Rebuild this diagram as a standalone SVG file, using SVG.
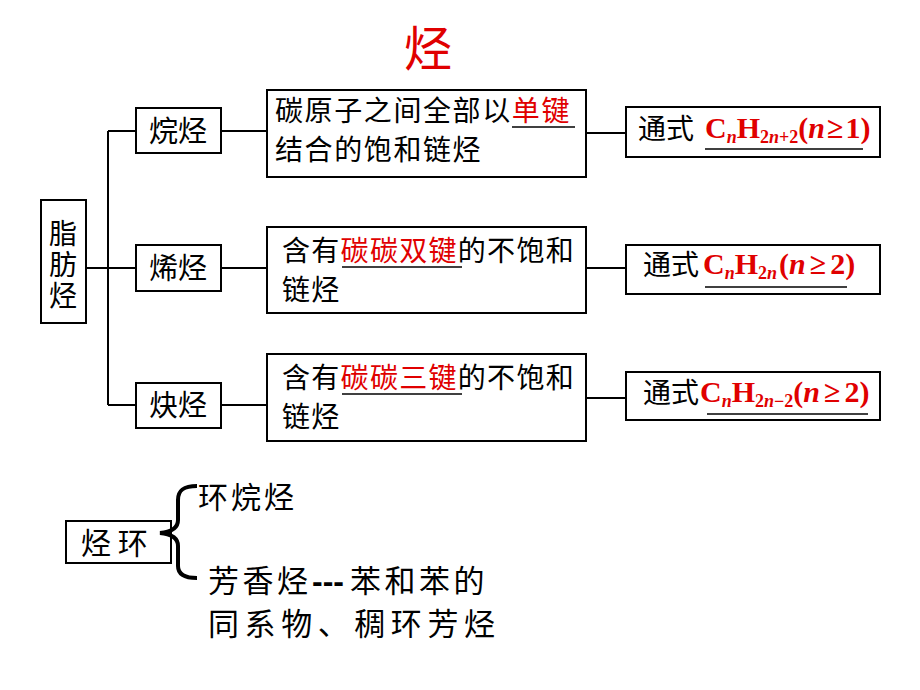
<svg xmlns="http://www.w3.org/2000/svg" width="920" height="690" viewBox="0 0 920 690">
<defs>
<style>
.box{fill:#fff;stroke:#000;stroke-width:2}
.ln{fill:none;stroke:#000;stroke-width:2}
.cn{font-family:"Noto Sans CJK SC","Noto Sans",sans-serif;fill:#000}
.red{fill:#e00000}
.f{font-family:"Liberation Serif",serif;font-weight:bold;fill:#e00000}
.ul{stroke:#000;stroke-width:1.5}
</style>
</defs>
<rect width="920" height="690" fill="#fff"/>
<text x="428" y="66" class="cn red" font-size="48" text-anchor="middle">烃</text>

<g id="connectors">
<path class="ln" d="M86,268 H136 M108,131 V405 M108,131 H136 M108,405 H136"/>
<path class="ln" d="M221,131 H267 M221,268 H267 M221,405 H267"/>
<path class="ln" d="M586,133 H626 M586,268 H626 M586,398 H626"/>
</g>

<g id="zhifangting">
<rect class="box" x="41" y="200" width="45" height="123"/>
<text class="cn" font-size="28" x="63" y="219" writing-mode="vertical-rl" letter-spacing="3">脂肪烃</text>
</g>

<g id="wanting">
<rect class="box" x="136" y="108" width="85" height="45"/>
<text class="cn" font-size="29" text-anchor="middle" x="178" y="142">烷烃</text>
</g>
<g id="xiting">
<rect class="box" x="136" y="245" width="85" height="46"/>
<text class="cn" font-size="29" text-anchor="middle" x="178" y="279">烯烃</text>
</g>
<g id="queting">
<rect class="box" x="136" y="383" width="85" height="45"/>
<text class="cn" font-size="29" text-anchor="middle" x="178" y="416">炔烃</text>
</g>

<g id="desc1">
<rect class="box" x="267" y="90" width="319" height="87"/>
<text class="cn" font-size="28" x="275" y="121" letter-spacing="1.6">碳原子之间全部以<tspan class="red">单键</tspan></text>
<line class="ul" x1="512" y1="127" x2="575" y2="127"/>
<text class="cn" font-size="28" x="275" y="160" letter-spacing="1.6">结合的饱和链烃</text>
</g>
<g id="desc2">
<rect class="box" x="267" y="227" width="319" height="86"/>
<text class="cn" font-size="28" x="282" y="261" letter-spacing="1.3">含有<tspan class="red">碳碳双键</tspan>的不饱和</text>
<line class="ul" x1="342" y1="267" x2="462" y2="267"/>
<text class="cn" font-size="28" x="282" y="300" letter-spacing="1.3">链烃</text>
</g>
<g id="desc3">
<rect class="box" x="267" y="354" width="319" height="87"/>
<text class="cn" font-size="28" x="282" y="388" letter-spacing="1.3">含有<tspan class="red">碳碳三键</tspan>的不饱和</text>
<line class="ul" x1="342" y1="394" x2="462" y2="394"/>
<text class="cn" font-size="28" x="282" y="427" letter-spacing="1.3">链烃</text>
</g>

<g id="formula1">
<rect class="box" x="626" y="107" width="254" height="50"/>
<text class="cn" font-size="28" x="638" y="139">通式</text>
<text class="f" font-size="30" x="705" y="138">C<tspan font-style="italic" font-size="18" dy="5">n</tspan><tspan dy="-5">H</tspan><tspan font-size="18" dy="5">2<tspan font-style="italic">n</tspan>+2</tspan><tspan dy="-5">(</tspan><tspan font-style="italic">n</tspan><tspan dx="2">≥</tspan><tspan dx="2">1)</tspan></text>
<line class="ul" x1="705" y1="149" x2="863" y2="149"/>
</g>
<g id="formula2">
<rect class="box" x="626" y="245" width="254" height="49"/>
<text class="cn" font-size="28" x="643" y="275">通式</text>
<text class="f" font-size="30" x="703" y="274">C<tspan font-style="italic" font-size="18" dy="5">n</tspan><tspan dy="-5">H</tspan><tspan font-size="18" dy="5">2<tspan font-style="italic">n</tspan></tspan><tspan dy="-5" dx="2">(</tspan><tspan font-style="italic">n</tspan><tspan dx="4">≥</tspan><tspan dx="4">2)</tspan></text>
<line class="ul" x1="705" y1="287" x2="847" y2="287"/>
</g>
<g id="formula3">
<rect class="box" x="626" y="372" width="254" height="48"/>
<text class="cn" font-size="28" x="643" y="403">通式</text>
<text class="f" font-size="30" x="700" y="402">C<tspan font-style="italic" font-size="18" dy="5">n</tspan><tspan dy="-5">H</tspan><tspan font-size="18" dy="5">2<tspan font-style="italic">n</tspan>−2</tspan><tspan dy="-5">(</tspan><tspan font-style="italic">n</tspan><tspan dx="4">≥</tspan><tspan dx="4">2)</tspan></text>
<line class="ul" x1="707" y1="414" x2="868" y2="414"/>
</g>

<g id="huanting">
<rect class="box" x="66" y="521" width="105" height="42"/>
<text class="cn" font-size="30" x="81" y="554">烃 环</text>
<path d="M197,486 C184,486 178,490 178,500 L178,520 C178,528 172,532 160,533 C172,534 178,538 178,546 L178,566 C178,574 184,578 197,578" fill="none" stroke="#000" stroke-width="4"/>
<text class="cn" font-size="30" x="198" y="508" letter-spacing="3">环烷烃</text>
<text class="cn" font-size="31" x="208" y="592" letter-spacing="3.5">芳香烃<tspan font-weight="bold" font-size="32" font-family="Liberation Sans,sans-serif" letter-spacing="0" x="312">---</tspan><tspan x="350">苯和苯的</tspan></text>
<text class="cn" font-size="31" x="208" y="635" textLength="287" lengthAdjust="spacing">同系物、稠环芳烃</text>
</g>
</svg>
